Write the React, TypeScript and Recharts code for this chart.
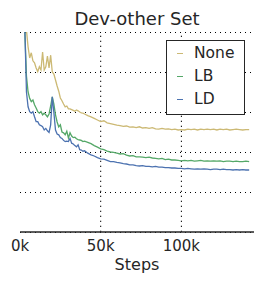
import { LineChart, Line, XAxis, YAxis, CartesianGrid, Legend, Label, ReferenceLine } from "recharts"

// training steps, in thousands
const stepsK = [
  2, 3, 4, 5, 6, 7, 8, 9, 10, 11, 12, 13, 14, 15, 16, 17, 18, 19, 20, 21,
  22, 23, 24, 25, 26, 27, 28, 29, 30, 31, 32, 33, 34, 35, 36, 37, 38, 39, 40,
  42, 44, 46, 48, 50, 52, 54, 56, 58, 60, 62, 64, 66, 68, 70, 72, 74, 76, 78, 80,
  82, 84, 86, 88, 90, 92, 94, 96, 98, 100, 102, 104, 106, 108, 110, 112, 114, 116, 118, 120,
  122, 124, 126, 128, 130, 132, 134, 136, 138, 140, 142,
]

const noneVals = [
  6.0, 5.4, 5.05, 4.63, 4.35, 4.48, 4.28, 4.23, 4.1, 4.01, 4.13, 4.05, 4.5, 4.05, 4.13, 4.4, 4.1, 4.42, 4.0, 3.95,
  3.8, 3.65, 3.52, 3.35, 3.28, 3.2, 3.13, 3.15, 3.08, 3.08, 3.06, 3.04, 3.02, 3.05, 3.03, 3.0, 2.98, 2.97, 2.95,
  2.91, 2.88, 2.84, 2.8, 2.76, 2.78, 2.73, 2.71, 2.69, 2.67, 2.66, 2.64, 2.65, 2.62, 2.63, 2.61, 2.63, 2.6, 2.61, 2.59,
  2.61, 2.58, 2.57, 2.59, 2.57, 2.58, 2.56, 2.57, 2.55, 2.56, 2.55, 2.57, 2.56, 2.57, 2.55, 2.57, 2.56, 2.57, 2.56, 2.57,
  2.55, 2.57, 2.56, 2.57, 2.55, 2.56, 2.57, 2.56, 2.55, 2.56, 2.56,
]

const lbVals = [
  6.0, 5.0, 3.9, 3.5, 3.34, 3.26, 3.3, 3.18, 3.1, 3.01, 2.97, 3.01, 2.93, 2.97, 2.93, 2.88, 2.95, 3.15, 3.38, 3.2,
  2.93, 2.75, 2.63, 2.68, 2.5, 2.48, 2.43, 2.52, 2.35, 2.48, 2.4, 2.36, 2.37, 2.33, 2.31, 2.3, 2.29, 2.26, 2.27,
  2.24, 2.21, 2.16, 2.12, 2.08, 2.06, 2.02, 2.0, 1.99, 1.97, 1.95, 1.96, 1.92, 1.9, 1.91, 1.88, 1.88, 1.87, 1.86, 1.87,
  1.85, 1.84, 1.83, 1.84, 1.81, 1.82, 1.8, 1.8, 1.79, 1.78, 1.79, 1.78, 1.79, 1.77, 1.78, 1.79, 1.77, 1.78, 1.77, 1.78,
  1.77, 1.78, 1.76, 1.77, 1.77, 1.76, 1.77, 1.76, 1.76, 1.77, 1.76,
]

const ldVals = [
  6.0, 5.1, 3.5, 3.13, 3.01, 2.97, 3.01, 2.88, 2.76, 2.76, 2.68, 2.66, 2.63, 2.55, 2.59, 2.53, 2.49, 2.68, 3.38, 2.98,
  2.55, 2.45, 2.43, 2.36, 2.34, 2.29, 2.26, 2.27, 2.26, 2.34, 2.22, 2.2, 2.16, 2.13, 2.18, 2.06, 2.05, 2.02, 2.03,
  1.97, 1.93, 1.9, 1.86, 1.83, 1.82, 1.79, 1.76, 1.76, 1.74, 1.73, 1.71, 1.7, 1.68, 1.68, 1.66, 1.65, 1.66, 1.64, 1.64,
  1.63, 1.64, 1.62, 1.62, 1.61, 1.61, 1.6, 1.6, 1.59, 1.59, 1.58, 1.59, 1.58, 1.57, 1.58, 1.57, 1.58, 1.57, 1.56, 1.57,
  1.57, 1.56, 1.57, 1.56, 1.56, 1.55, 1.56, 1.55, 1.56, 1.55, 1.55,
]

const seriesNames = ["None", "LB", "LD"]
const xTicks = [0, 50000, 100000]
const yTicks = [0, 1, 2, 3, 4, 5]

const data = stepsK.map((k, i) => ({
  step: k * 1000,
  none: noneVals[i],
  lb: lbVals[i],
  ld: ldVals[i],
}))

const FONT = "'DejaVu Sans', sans-serif"
const INK = "#262626"
const frame = { stroke: INK, strokeWidth: 1.3 }
const dotted = { stroke: "#000", strokeDasharray: "1.3 3.7", strokeWidth: 1 }

// y axis has tick marks but no labels
const NoLabel = () => <g />

function LegendBox(props: any) {
  const items = [...(props.payload || [])].sort(
    (a: any, b: any) => seriesNames.indexOf(a.value) - seriesNames.indexOf(b.value)
  )
  return (
    <div
      style={{
        boxSizing: "border-box",
        width: 79,
        height: 75,
        border: `1.5px solid ${INK}`,
        background: "#fff",
        padding: "1px 0 0 10px",
        fontFamily: FONT,
        fontSize: 15.5,
        color: INK,
      }}
    >
      {items.map((p: any) => (
        <div key={p.value} style={{ display: "flex", alignItems: "center", height: 23, lineHeight: "23px" }}>
          <span style={{ display: "inline-block", width: 6, height: 1.5, background: p.color, marginRight: 11 }} />
          <span>{p.value}</span>
        </div>
      ))}
    </div>
  )
}

export default function App() {
  return (
    <div style={{ position: "absolute", left: 0, top: 0, width: 262, height: 284, background: "#fff", fontFamily: FONT }}>
      <div
        style={{
          position: "absolute",
          left: 20,
          top: 8,
          width: 234,
          textAlign: "center",
          fontSize: 18,
          lineHeight: "21px",
          color: INK,
          zIndex: 2,
        }}
      >
        Dev-other Set
      </div>
      <LineChart width={262} height={284} data={data} margin={{ top: 32, right: 8, bottom: 0, left: 20 }}>
        <CartesianGrid vertical={false} {...dotted} shapeRendering="crispEdges" />
        {xTicks.slice(1).map((t) => (
          <ReferenceLine key={t} x={t} {...dotted} />
        ))}
        <XAxis
          dataKey="step"
          type="number"
          domain={[0, 145000]}
          ticks={xTicks}
          tickFormatter={(v: number) => `${v / 1000}k`}
          tickLine={false}
          tickSize={0}
          tickMargin={8}
          axisLine={frame}
          tick={{ fill: INK, fontSize: 15 }}
          height={52}
        >
          <Label value="Steps" position="insideBottom" offset={14} style={{ fontSize: 16, fill: INK }} />
        </XAxis>
        <XAxis
          xAxisId="top"
          orientation="top"
          dataKey="step"
          type="number"
          domain={[0, 145000]}
          ticks={xTicks}
          tick={NoLabel}
          tickLine={false}
          axisLine={frame}
          height={0}
        />
        <YAxis
          type="number"
          domain={[0, 5]}
          ticks={yTicks}
          allowDataOverflow
          width={0}
          mirror
          tick={NoLabel}
          tickSize={6}
          tickLine={frame}
          axisLine={frame}
        />
        <YAxis
          yAxisId="right"
          orientation="right"
          type="number"
          domain={[0, 5]}
          ticks={yTicks}
          allowDataOverflow
          width={0}
          mirror
          tick={NoLabel}
          tickSize={6}
          tickLine={frame}
          axisLine={frame}
        />
        <Legend
          layout="vertical"
          align="center"
          verticalAlign="middle"
          content={LegendBox}
          wrapperStyle={{ left: 166, top: 40, width: 79, height: 75 }}
        />
        <Line type="linear" dataKey="none" name="None" stroke="#CCB974" strokeWidth={1.3} dot={false} isAnimationActive={false} />
        <Line type="linear" dataKey="lb" name="LB" stroke="#55A868" strokeWidth={1.3} dot={false} isAnimationActive={false} />
        <Line type="linear" dataKey="ld" name="LD" stroke="#4C72B0" strokeWidth={1.3} dot={false} isAnimationActive={false} />
      </LineChart>
    </div>
  )
}
